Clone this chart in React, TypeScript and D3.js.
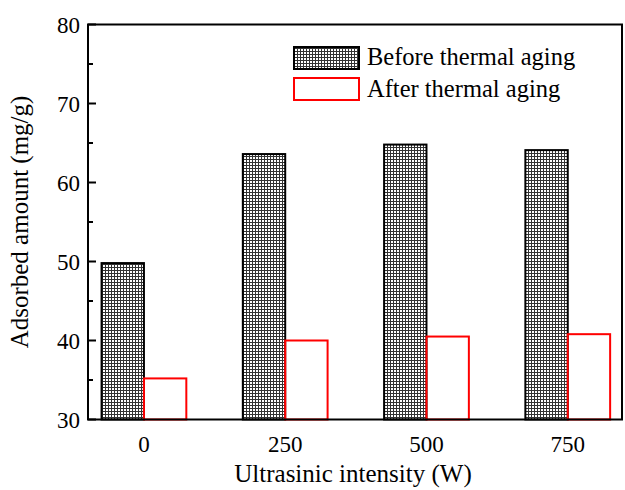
import React from 'react'
import * as d3 from 'd3'

const intensities = [0, 250, 500, 750]
const beforeAging = [49.8, 63.6, 64.8, 64.1]
const afterAging = [35.2, 40.0, 40.5, 40.8]
const yTicks = [30, 40, 50, 60, 70, 80]
const yMinorTicks = [35, 45, 55, 65, 75]
const legendLabels = ['Before thermal aging', 'After thermal aging']

const W = 625
const H = 490
const plot = { left: 88, right: 622, top: 24.5, bottom: 419.5 }
const font = '"Liberation Serif", "Times New Roman", serif'

const App: React.FC = () => {
  const x = d3.scaleLinear().domain([-99, 846]).range([plot.left, plot.right])
  const y = d3.scaleLinear().domain([30, 80]).range([plot.bottom, plot.top])
  const barW = x(75) - x(0)

  return (
    <svg
      width={W}
      height={H}
      style={{ position: 'absolute', left: 0, top: 0, background: '#fff' }}
      fontFamily={font}
    >
      <defs>
        <pattern id="grid" width={3} height={3} patternUnits="userSpaceOnUse">
          <rect width={3} height={3} fill="#fff" />
          <path d="M0 0.5H3M0.5 0V3" stroke="#333" strokeWidth={1} fill="none" />
        </pattern>
      </defs>

      {/* bars */}
      {intensities.map((c, i) => (
        <g key={c}>
          <rect
            x={x(c) - barW}
            y={y(beforeAging[i])}
            width={barW}
            height={y(30) - y(beforeAging[i])}
            fill="url(#grid)"
            stroke="#000"
            strokeWidth={2}
          />
          <rect
            x={x(c)}
            y={y(afterAging[i])}
            width={barW}
            height={y(30) - y(afterAging[i])}
            fill="none"
            stroke="#ff0000"
            strokeWidth={2}
          />
        </g>
      ))}

      {/* frame */}
      <rect
        x={plot.left}
        y={plot.top}
        width={plot.right - plot.left}
        height={plot.bottom - plot.top}
        fill="none"
        stroke="#000"
        strokeWidth={2}
      />

      {/* y ticks */}
      {yTicks.map(t => (
        <g key={t}>
          <line x1={plot.left} x2={plot.left + 8} y1={y(t)} y2={y(t)} stroke="#000" strokeWidth={2} />
          <text x={80} y={y(t)} dy="0.35em" textAnchor="end" fontSize={23}>
            {t}
          </text>
        </g>
      ))}
      {yMinorTicks.map(t => (
        <line key={t} x1={plot.left} x2={plot.left + 5} y1={y(t)} y2={y(t)} stroke="#000" strokeWidth={2} />
      ))}

      {/* x tick labels */}
      {intensities.map(c => (
        <text key={c} x={x(c)} y={452} textAnchor="middle" fontSize={23}>
          {c}
        </text>
      ))}

      {/* axis titles */}
      <text x={(plot.left + plot.right) / 2 - 2} y={482} textAnchor="middle" fontSize={25}>
        Ultrasinic intensity (W)
      </text>
      <text
        transform={`translate(28, ${(plot.top + plot.bottom) / 2}) rotate(-90)`}
        textAnchor="middle"
        fontSize={25}
      >
        Adsorbed amount (mg/g)
      </text>

      {/* legend */}
      <rect x={294} y={47} width={65} height={22} fill="url(#grid)" stroke="#000" strokeWidth={2} />
      <text x={367} y={65} fontSize={24.5}>
        {legendLabels[0]}
      </text>
      <rect x={294} y={78} width={65} height={22} fill="#fff" stroke="#ff0000" strokeWidth={2} />
      <text x={367} y={96.5} fontSize={24.5}>
        {legendLabels[1]}
      </text>
    </svg>
  )
}

export default App
